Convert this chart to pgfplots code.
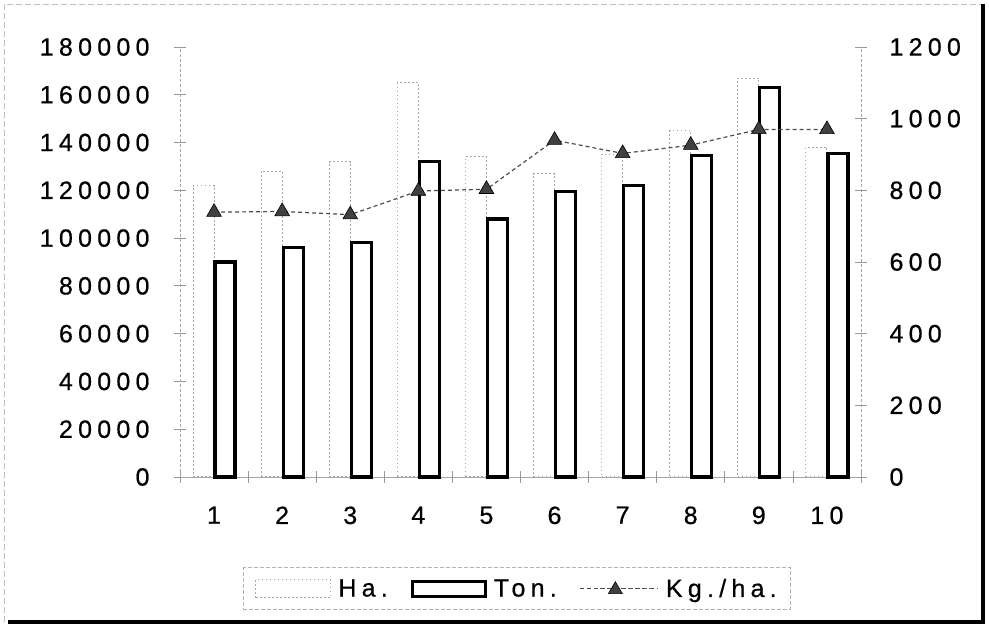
\documentclass[border=0pt]{standalone}
\usepackage{fontspec}
\setmainfont{Liberation Sans}[LetterSpace=21, FakeBold=0.6]
\usepackage{pgfplots}
\pgfplotsset{compat=1.18}
\newcommand\F{\fontsize{25bp}{30bp}\selectfont}
\begin{document}
\begin{tikzpicture}[x=1bp,y=1bp]
\useasboundingbox (0,0) rectangle (989,624);
\draw[gray!50, line width=0.8bp, dash pattern=on 6bp off 3bp] (4,2) -- (4,620) -- (983,620);
\draw[black, line width=3.5bp] (8,2) -- (983,2) -- (983,620);
\begin{axis}[
  at={(180bp,147bp)}, anchor=south west, scale only axis,
  width=681bp, height=430bp,
  xmin=0.5, xmax=10.5, ymin=0, ymax=180000,
  axis y line*=left, axis x line*=bottom,
  axis line style={gray!70, line width=0.8bp, -},
  y axis line style={dash pattern=on 3bp off 2bp},
  ytick={0,20000,...,180000},
  xtick={0.5,1.5,...,9.5},
  xticklabels={1,2,3,4,5,6,7,8,9,10},
  extra x ticks={10.5}, extra x tick labels={},
  tick align=center, major tick length=12bp,
  tick style={gray!80, line width=0.8bp},
  xticklabel style={font=\F, xshift=34bp, yshift=-20bp},
  yticklabel style={font=\F, xshift=-21bp},
  scaled y ticks=false,
  /pgf/number format/fixed,
  /pgf/number format/1000 sep={},
  /pgf/number format/assume math mode=true,
  clip=false,
]
\addplot[ybar, bar width=21bp, bar shift=-10.5bp, draw=gray!70, line width=1bp, dash pattern=on 1.5bp off 2.5bp, fill=white]
  coordinates {(1,122000) (2,128000) (3,132000) (4,165000) (5,134000) (6,127000) (7,135000) (8,145000) (9,167000) (10,138000)};
\addplot[ybar, bar width=20bp, bar shift=11bp, draw=black, line width=3.2bp, fill=white]
  coordinates {(1,90000) (2,96000) (3,98000) (4,132000) (5,108000) (6,119500) (7,122000) (8,134500) (9,163000) (10,135500)};
\end{axis}
\begin{axis}[
  at={(180bp,147bp)}, anchor=south west, scale only axis,
  width=681bp, height=430bp,
  xmin=0.5, xmax=10.5, ymin=0, ymax=1200,
  axis y line*=right, axis x line=none,
  axis line style={gray!70, line width=0.8bp, dash pattern=on 3bp off 2bp, -},
  ytick={0,200,...,1200},
  tick align=center, major tick length=12bp,
  tick style={gray!80, line width=0.8bp, solid},
  yticklabel style={font=\F, xshift=19bp},
  /pgf/number format/fixed,
  /pgf/number format/1000 sep={},
  /pgf/number format/assume math mode=true,
  legend columns=3,
  legend style={at={(axis description cs:0.0925,-0.309)}, anchor=south west,
    draw=gray!60, line width=0.8bp, dash pattern=on 4bp off 2bp, font=\F, inner xsep=12bp, inner ysep=9bp,
    /tikz/every odd column/.append style={column sep=5bp},
    /tikz/every even column/.append style={column sep=21bp}},
  legend cell align=left,
  clip=false,
]
\addlegendimage{legend image code/.code={\draw[gray!70, line width=1bp, dash pattern=on 1.5bp off 2.5bp, fill=white] (0bp,-9bp) rectangle (75bp,9bp);}}
\addlegendentry{Ha.}
\addlegendimage{legend image code/.code={\draw[black, line width=3bp, fill=white] (0bp,-7.5bp) rectangle (73bp,7.5bp);}}
\addlegendentry{Ton.}
\addplot[gray!60!black, line width=1.2bp, dash pattern=on 4bp off 3bp, mark=triangle*, mark size=8.5bp,
  mark options={solid, fill=gray!50!black, draw=black, line width=0.6bp},
  legend image code/.code={\path (0bp,0) -- (78bp,0); \draw[gray!60!black, line width=1.2bp, dash pattern=on 4bp off 3bp] (20bp,0) -- (70bp,0); \draw[solid, fill=gray!50!black, draw=black, line width=0.6bp] (28bp,-5bp) -- (42bp,-5bp) -- (35bp,7bp) -- cycle;}]
  coordinates {(1,739) (2,741) (3,732) (4,798) (5,803) (6,940) (7,903) (8,926) (9,970) (10,970)};
\addlegendentry{Kg./ha.}
\end{axis}
\end{tikzpicture}
\end{document}
